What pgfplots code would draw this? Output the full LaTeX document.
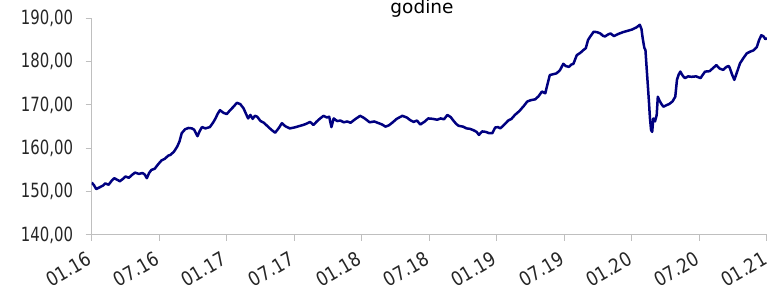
\documentclass[border=0pt]{standalone}
\usepackage{fontspec}
\setmainfont{DejaVu Sans}[FakeStretch=0.76]
\newfontfamily\titlefont{DejaVu Sans}
\newfontfamily\xlabfont{DejaVu Sans}[FakeStretch=0.86]
\usepackage{pgfplots}
\pgfplotsset{compat=1.18}
\definecolor{navyline}{RGB}{0,0,128}
\definecolor{axgray}{RGB}{191,191,191}
\definecolor{lblgray}{RGB}{38,38,38}
\begin{document}
\begin{tikzpicture}[x=1pt,y=1pt]
\begin{axis}[
  at={(91.7pt,54pt)}, anchor=south west,
  scale only axis, width=675.3pt, height=216.7pt,
  xmin=0, xmax=60, ymin=140, ymax=190,
  axis x line*=bottom, axis y line*=left,
  tick align=outside, major tick length=6pt,
  axis line style={axgray, line width=1pt},
  tick style={axgray, line width=1pt},
  xtick={0,6,...,60},
  xticklabels={01.16,07.16,01.17,07.17,01.18,07.18,01.19,07.19,01.20,07.20,01.21},
  ytick={140,150,...,190},
  yticklabels={{140,00},{150,00},{160,00},{170,00},{180,00},{190,00}},
  ticklabel style={font=\fontsize{19.6}{20}\selectfont, text=lblgray},
  xticklabel style={font=\xlabfont\fontsize{19.6}{20}\selectfont, xshift=-2pt, yshift=-16pt, rotate=30, anchor=east, inner sep=0pt},
  yticklabel style={anchor=east, inner sep=0pt, xshift=-12.4pt},
]
\addplot[navyline, line width=2.5pt, line join=round] coordinates {
(0,152.1)(0.2,151.5)(0.4,150.6)(0.7,151.0)(1.0,151.4)(1.2,151.9)(1.5,151.6)(1.8,152.6)(2.0,153.1)(2.3,152.7)(2.5,152.4)(2.8,153.0)(3.0,153.5)(3.3,153.2)(3.6,153.9)(3.85,154.4)(4.2,154.1)(4.5,154.3)(4.7,154.0)(4.9,153.1)(5.1,154.3)(5.3,155.0)(5.6,155.3)(5.9,156.3)(6.2,157.2)(6.5,157.6)(6.8,158.3)(7.0,158.5)(7.3,159.2)(7.6,160.4)(7.8,161.6)(8.0,163.5)(8.3,164.4)(8.6,164.7)(8.9,164.6)(9.1,164.3)(9.4,162.8)(9.6,164.0)(9.8,164.9)(10.1,164.6)(10.5,164.9)(10.8,166.0)(11.0,166.9)(11.2,168.0)(11.4,168.8)(11.7,168.2)(12.0,167.9)(12.3,168.8)(12.6,169.6)(12.9,170.5)(13.2,170.2)(13.5,169.2)(13.7,168.0)(13.9,166.9)(14.1,167.7)(14.3,166.8)(14.5,167.5)(14.7,167.3)(15.0,166.3)(15.3,165.9)(15.7,164.9)(16.0,164.2)(16.3,163.6)(16.6,164.6)(16.9,165.8)(17.2,165.1)(17.6,164.6)(18.0,164.8)(18.4,165.1)(18.8,165.4)(19.1,165.7)(19.4,166.1)(19.7,165.4)(20.0,166.2)(20.3,166.9)(20.6,167.5)(20.9,167.1)(21.1,167.3)(21.3,164.9)(21.5,166.9)(21.8,166.3)(22.1,166.4)(22.4,166.0)(22.7,166.2)(23.0,165.9)(23.4,166.7)(23.85,167.5)(24.2,167.0)(24.7,166.0)(25.1,166.2)(25.5,165.8)(25.8,165.5)(26.1,165.0)(26.4,165.3)(26.7,165.9)(27.1,166.8)(27.6,167.5)(28.0,167.1)(28.3,166.5)(28.6,166.1)(28.9,166.4)(29.2,165.5)(29.6,166.2)(29.9,166.9)(30.3,166.8)(30.7,166.6)(31.0,166.9)(31.3,166.7)(31.6,167.7)(31.9,167.2)(32.1,166.5)(32.4,165.6)(32.6,165.2)(33.0,165.0)(33.3,164.6)(33.6,164.5)(33.9,164.2)(34.2,163.8)(34.4,163.1)(34.7,163.9)(35.0,163.8)(35.3,163.5)(35.6,163.5)(35.85,164.8)(36.1,164.9)(36.3,164.6)(36.6,165.3)(37.0,166.4)(37.3,166.8)(37.6,167.7)(38.0,168.6)(38.4,169.8)(38.7,170.8)(39.0,171.1)(39.4,171.3)(39.7,172.0)(40.0,173.1)(40.3,172.7)(40.5,174.8)(40.7,176.9)(41.0,177.1)(41.3,177.3)(41.6,178.0)(41.9,179.5)(42.1,179.0)(42.4,178.8)(42.6,179.3)(42.8,179.5)(43.1,181.5)(43.4,182.0)(43.7,182.7)(43.9,183.1)(44.1,185.0)(44.3,185.8)(44.6,186.9)(44.9,186.8)(45.2,186.5)(45.4,186.0)(45.6,185.8)(45.9,186.3)(46.1,186.5)(46.4,185.9)(46.8,186.4)(47.2,186.8)(47.6,187.1)(48.0,187.4)(48.4,187.9)(48.6,188.3)(48.7,188.5)(48.85,187.5)(48.95,185.5)(49.1,183.2)(49.2,182.7)(49.3,178.8)(49.4,175.0)(49.5,171.2)(49.6,167.0)(49.7,164.2)(49.8,163.8)(49.9,166.9)(50.05,166.2)(50.2,167.7)(50.3,171.9)(50.45,171.0)(50.6,170.3)(50.8,169.6)(51.1,170.0)(51.3,170.2)(51.6,170.8)(51.85,171.9)(52.0,175.8)(52.15,177.0)(52.3,177.7)(52.5,176.8)(52.7,176.2)(53.0,176.6)(53.3,176.5)(53.7,176.6)(54.1,176.2)(54.3,177.0)(54.5,177.7)(54.9,177.8)(55.2,178.5)(55.5,179.2)(55.8,178.4)(56.1,178.1)(56.4,178.8)(56.6,179.0)(56.7,178.5)(56.9,177.0)(57.1,175.8)(57.3,177.3)(57.6,179.6)(57.9,180.8)(58.2,181.9)(58.5,182.3)(58.8,182.6)(59.1,183.4)(59.3,185.0)(59.5,186.1)(59.7,185.8)(59.85,185.2)(60.0,185.4)
};
\end{axis}
\node[font=\titlefont\fontsize{18.5}{20}\selectfont, anchor=base, text=black] at (422pt,275pt) {godine};
\pgfresetboundingbox
\useasboundingbox (0pt,0pt) rectangle (769pt,289pt);
\end{tikzpicture}
\end{document}
